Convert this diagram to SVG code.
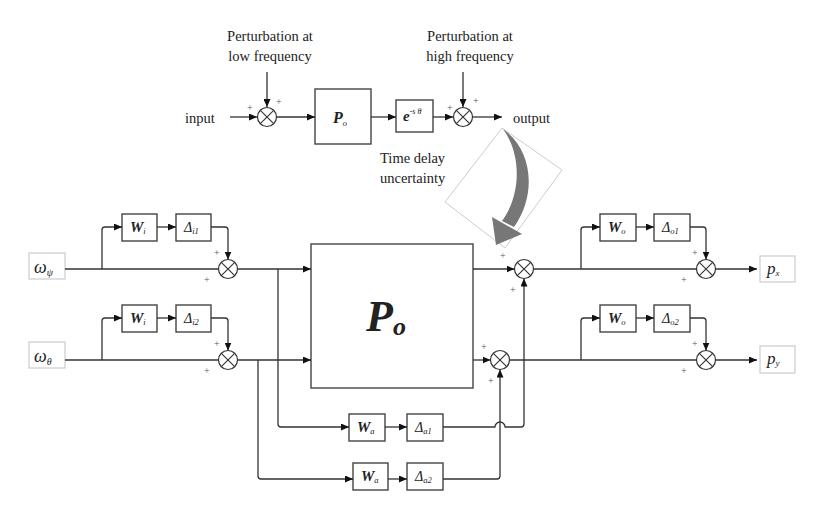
<svg xmlns="http://www.w3.org/2000/svg" width="827" height="514" viewBox="0 0 827 514">
<style>
text{font-family:"Liberation Serif","Times New Roman",serif;fill:#222}
.ln{fill:none;stroke:#333;stroke-width:1.3;stroke-linejoin:round}
.ar{marker-end:url(#ah)}
.bx{fill:#fff;stroke:#444;stroke-width:1.4}
.io{fill:#fff;stroke:#ccc;stroke-width:1.2}
.sum{fill:#fff;stroke:#333;stroke-width:1.2}
.x{stroke:#333;stroke-width:1.1}
.pl{font-size:10px;fill:#555}
.lb{font-size:14.5px}
.W{font-size:15px;font-weight:bold;font-style:italic}
.D{font-size:14px;font-style:italic}
.sb{font-size:8.5px;font-style:italic;font-weight:normal}
</style>
<defs>
<marker id="ah" markerUnits="userSpaceOnUse" markerWidth="8" markerHeight="7" refX="8" refY="3.5" orient="auto">
<path d="M0,0 L8,3.5 L0,7 z" fill="#111"/>
</marker>
<g id="sx">
<circle r="9.5" class="sum"/>
<line x1="-6.7" y1="-6.7" x2="6.7" y2="6.7" class="x"/>
<line x1="-6.7" y1="6.7" x2="6.7" y2="-6.7" class="x"/>
</g>
</defs>

<!-- top diagram -->
<g id="top-labels">
<text class="lb" x="270" y="41" text-anchor="middle">Perturbation at</text>
<text class="lb" x="270" y="61" text-anchor="middle">low frequency</text>
<text class="lb" x="470" y="41" text-anchor="middle">Perturbation at</text>
<text class="lb" x="470" y="61" text-anchor="middle">high frequency</text>
<text class="lb" x="185" y="123" font-size="15">input</text>
<text class="lb" x="513" y="123" font-size="15">output</text>
<text class="lb" x="380" y="163">Time delay</text>
<text class="lb" x="380" y="183">uncertainty</text>
</g>
<g id="top-sum1"><use href="#sx" x="267" y="117"/>
<text class="pl" x="247" y="111">+</text><text class="pl" x="276" y="105">+</text></g>
<g id="top-Po"><rect class="bx" x="315" y="89" width="56" height="55"/>
<text x="333" y="123" font-size="16" font-weight="bold" font-style="italic">P<tspan class="sb" font-size="8" dy="3">o</tspan></text></g>
<g id="top-delay"><rect class="bx" x="396" y="100" width="37" height="32"/>
<text x="403" y="121" font-size="15" font-weight="bold" font-style="italic">e<tspan font-size="8" font-weight="normal" dy="-7">-s θ</tspan></text></g>
<g id="top-sum2"><use href="#sx" x="463" y="117"/>
<text class="pl" x="447" y="111">+</text><text class="pl" x="473" y="104">+</text></g>
<g id="top-connectors">
<path class="ln ar" d="M267,72 V107"/>
<path class="ln ar" d="M463,72 V107"/>
<path class="ln ar" d="M230,117 H257"/>
<path class="ln ar" d="M276.5,117 H315"/>
<path class="ln ar" d="M371,117 H396"/>
<path class="ln ar" d="M433,117 H453"/>
<path class="ln ar" d="M472.5,117 H502"/>
</g>

<!-- page curl -->
<g id="curl">
<polygon points="502,128 562,170 505,248 445,202" fill="#fff" stroke="#ccc" stroke-width="1"/>
<path d="M503,129 C533,150 537,195 514,227 L502,221 C521,195 522,155 503,129 Z" fill="#777"/>
<polygon points="492,217 522,234 496,245" fill="#777"/>
</g>

<!-- bottom diagram nodes -->
<g id="in-psi"><rect class="io" x="29" y="253" width="36" height="26"/>
<text x="34" y="273" font-size="18" font-style="italic">ω<tspan font-size="10" dy="3">ψ</tspan></text></g>
<g id="in-theta"><rect class="io" x="29" y="342" width="36" height="26"/>
<text x="34" y="362" font-size="18" font-style="italic">ω<tspan font-size="10" dy="3">θ</tspan></text></g>

<g id="Wi1"><rect class="bx" x="122" y="214" width="35" height="27"/>
<text class="W" x="130" y="232">W<tspan class="sb" dy="2">i</tspan></text></g>
<g id="Di1"><rect class="bx" x="176" y="214" width="35" height="27"/>
<text class="D" x="184" y="232">Δ<tspan class="sb" dy="2">i1</tspan></text></g>
<g id="Wi2"><rect class="bx" x="122" y="305" width="35" height="27"/>
<text class="W" x="130" y="323">W<tspan class="sb" dy="2">i</tspan></text></g>
<g id="Di2"><rect class="bx" x="176" y="305" width="35" height="27"/>
<text class="D" x="184" y="323">Δ<tspan class="sb" dy="2">i2</tspan></text></g>

<g id="sum-i1"><use href="#sx" x="228" y="269"/>
<text class="pl" x="214" y="256">+</text><text class="pl" x="204" y="283">+</text></g>
<g id="sum-i2"><use href="#sx" x="228" y="360"/>
<text class="pl" x="214" y="347">+</text><text class="pl" x="204" y="374">+</text></g>

<g id="Po"><rect class="bx" x="311" y="244" width="162" height="144"/>
<text x="366" y="331" font-size="44" font-weight="bold" font-style="italic">P<tspan font-size="26" dy="4">o</tspan></text></g>

<g id="sum-o1"><use href="#sx" x="524" y="269"/>
<text class="pl" x="500" y="259">+</text><text class="pl" x="510" y="293">+</text></g>
<g id="sum-o2"><use href="#sx" x="500" y="360"/>
<text class="pl" x="481" y="350">+</text><text class="pl" x="488" y="384">+</text></g>

<g id="Wa1"><rect class="bx" x="349" y="414" width="36" height="27"/>
<text class="W" x="357" y="432">W<tspan class="sb" dy="2">a</tspan></text></g>
<g id="Da1"><rect class="bx" x="407" y="414" width="36" height="27"/>
<text class="D" x="415" y="432">Δ<tspan class="sb" dy="2">a1</tspan></text></g>
<g id="Wa2"><rect class="bx" x="353" y="463" width="35" height="27"/>
<text class="W" x="361" y="481">W<tspan class="sb" dy="2">a</tspan></text></g>
<g id="Da2"><rect class="bx" x="407" y="463" width="36" height="27"/>
<text class="D" x="415" y="481">Δ<tspan class="sb" dy="2">a2</tspan></text></g>

<g id="Wo1"><rect class="bx" x="600" y="214" width="36" height="27"/>
<text class="W" x="608" y="232">W<tspan class="sb" dy="2">o</tspan></text></g>
<g id="Do1"><rect class="bx" x="654" y="214" width="36" height="27"/>
<text class="D" x="662" y="232">Δ<tspan class="sb" dy="2">o1</tspan></text></g>
<g id="Wo2"><rect class="bx" x="600" y="305" width="36" height="27"/>
<text class="W" x="608" y="323">W<tspan class="sb" dy="2">o</tspan></text></g>
<g id="Do2"><rect class="bx" x="654" y="305" width="36" height="27"/>
<text class="D" x="662" y="323">Δ<tspan class="sb" dy="2">o2</tspan></text></g>

<g id="sum-out1"><use href="#sx" x="706" y="269"/>
<text class="pl" x="692" y="256">+</text><text class="pl" x="681" y="283">+</text></g>
<g id="sum-out2"><use href="#sx" x="706" y="360"/>
<text class="pl" x="692" y="347">+</text><text class="pl" x="681" y="374">+</text></g>

<g id="px"><rect class="io" x="760" y="256" width="35" height="26"/>
<text x="767" y="274" font-size="17" font-style="italic">p<tspan font-size="9" dy="2">x</tspan></text></g>
<g id="py"><rect class="io" x="760" y="346" width="35" height="27"/>
<text x="767" y="364" font-size="17" font-style="italic">p<tspan font-size="9" dy="2">y</tspan></text></g>

<!-- connectors -->
<g id="connectors">
<path class="ln" d="M65,269 H218.5"/>
<path class="ln ar" d="M102,269 V230 Q102,227 105,227 H122"/>
<path class="ln ar" d="M157,227 H176"/>
<path class="ln ar" d="M211,227 H225 Q228,227 228,230 V259.5"/>
<path class="ln ar" d="M237.5,269 H311"/>
<path class="ln ar" d="M278,269 V424 Q278,427 281,427 H349"/>

<path class="ln" d="M65,360 H218.5"/>
<path class="ln ar" d="M102,360 V321 Q102,318 105,318 H122"/>
<path class="ln ar" d="M157,318 H176"/>
<path class="ln ar" d="M211,318 H225 Q228,318 228,321 V350.5"/>
<path class="ln ar" d="M237.5,360 H311"/>
<path class="ln ar" d="M258,360 V476 Q258,479 261,479 H353"/>

<path class="ln ar" d="M385,427 H407"/>
<path class="ln ar" d="M388,479 H407"/>
<path class="ln ar" d="M443,427 H495 A5,5 0 0 1 505,427 H521 Q524,427 524,424 V278.5"/>
<path class="ln ar" d="M443,479 H497 Q500,479 500,476 V369.5"/>

<path class="ln ar" d="M473,269 H514.5"/>
<path class="ln ar" d="M473,360 H490.5"/>

<path class="ln" d="M533.5,269 H696.5"/>
<path class="ln ar" d="M581,269 V230 Q581,227 584,227 H600"/>
<path class="ln ar" d="M636,227 H654"/>
<path class="ln ar" d="M690,227 H703 Q706,227 706,230 V259.5"/>
<path class="ln ar" d="M715.5,269 H757"/>

<path class="ln" d="M509.5,360 H696.5"/>
<path class="ln ar" d="M581,360 V321 Q581,318 584,318 H600"/>
<path class="ln ar" d="M636,318 H654"/>
<path class="ln ar" d="M690,318 H703 Q706,318 706,321 V350.5"/>
<path class="ln ar" d="M715.5,360 H757"/>
</g>
</svg>
